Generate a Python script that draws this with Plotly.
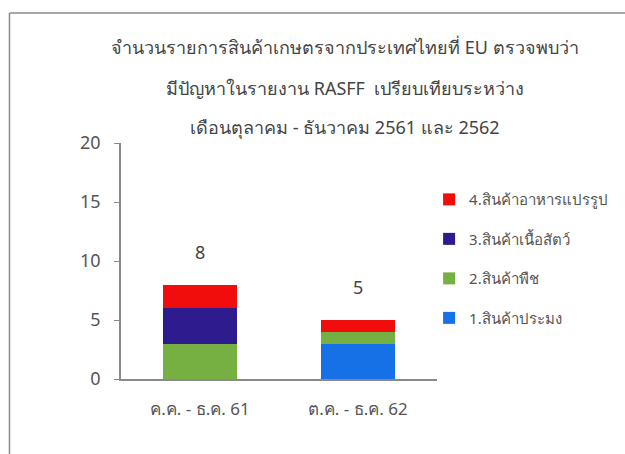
import plotly.graph_objects as go

categories = ["ค.ค. - ธ.ค. 61", "ต.ค. - ธ.ค. 62"]
series_names = ["1.สินค้าประมง", "2.สินค้าพืช", "3.สินค้าเนื้อสัตว์", "4.สินค้าอาหารแปรรูป"]
fisheries = [0, 3]
plants = [3, 1]
meat = [3, 0]
processed = [2, 1]
totals = [8, 5]
title_lines = ["จำนวนรายการสินค้าเกษตรจากประเทศไทยที่ EU ตรวจพบว่า",
               "มีปัญหาในรายงาน RASFF  เปรียบเทียบระหว่าง",
               "เดือนตุลาคม - ธันวาคม 2561 และ 2562"]
colors = ["#1670E6", "#76B043", "#2E1C8E", "#F20D0D"]

font_family = "Noto Sans, DejaVu Sans, sans-serif"
txt = "#555555"

L, R, T, B = 121, 181, 143, 75
W, H = 625, 454
pw, ph = W - L - R, H - T - B

fig = go.Figure()
n = len(series_names)
for i, (name, vals, col) in enumerate(zip(series_names, [fisheries, plants, meat, processed], colors)):
    fig.add_trace(go.Bar(x=categories, y=vals, name=name, legendgroup=name,
                         legendrank=(n - i) * 100,
                         marker=dict(color=col, line=dict(width=0)), width=0.47))

for c, t in zip(categories, totals):
    fig.add_annotation(x=c, y=t, text=str(t), showarrow=False, yshift=33,
                       font=dict(size=18, color="#444444", family=font_family))

for line, py in zip(title_lines, [47, 88, 127]):
    fig.add_annotation(xref="paper", yref="paper", x=(350 - L) / pw, y=1 + (T - py) / ph, text=line,
                       showarrow=False, xanchor="center", yanchor="middle",
                       font=dict(size=18, color="#444444", family=font_family))

# frame
fx, fy = (7 - L) / pw, 1 + (T - 13) / ph
fig.add_shape(type="line", xref="paper", yref="paper", x0=fx, x1=1.7, y0=fy, y1=fy,
              line=dict(color="#8a8a8a", width=1.5))
fig.add_shape(type="line", xref="paper", yref="paper", x0=fx, x1=fx, y0=fy, y1=-0.4,
              line=dict(color="#8a8a8a", width=1.5))

fig.update_layout(
    width=W, height=H,
    margin=dict(l=L, r=R, t=T, b=B),
    barmode="stack", bargap=0.53,
    paper_bgcolor="white", plot_bgcolor="white",
    showlegend=True,
    legend=dict(x=0.975, y=0.83, xanchor="left", yanchor="top", traceorder="grouped",
                font=dict(size=15, color=txt, family=font_family), itemwidth=30,
                tracegroupgap=17, bgcolor="rgba(0,0,0,0)"),
    font=dict(family=font_family, color=txt),
)
fig.update_xaxes(showline=True, linecolor="#8a8a8a", linewidth=1.5, ticks="",
                 tickfont=dict(size=17, color=txt), showgrid=False, ticklabelstandoff=14)
fig.update_yaxes(range=[0, 20], tickvals=[0, 5, 10, 15, 20], showline=True, linecolor="#8a8a8a",
                 linewidth=1.5, ticks="outside", ticklen=5, tickcolor="#8a8a8a",
                 tickfont=dict(size=18, color=txt), showgrid=False, zeroline=False,
                 ticklabelstandoff=10)

fig.write_html("out.html", config={"displayModeBar": False},
               post_script="document.body.style.margin='0';")
